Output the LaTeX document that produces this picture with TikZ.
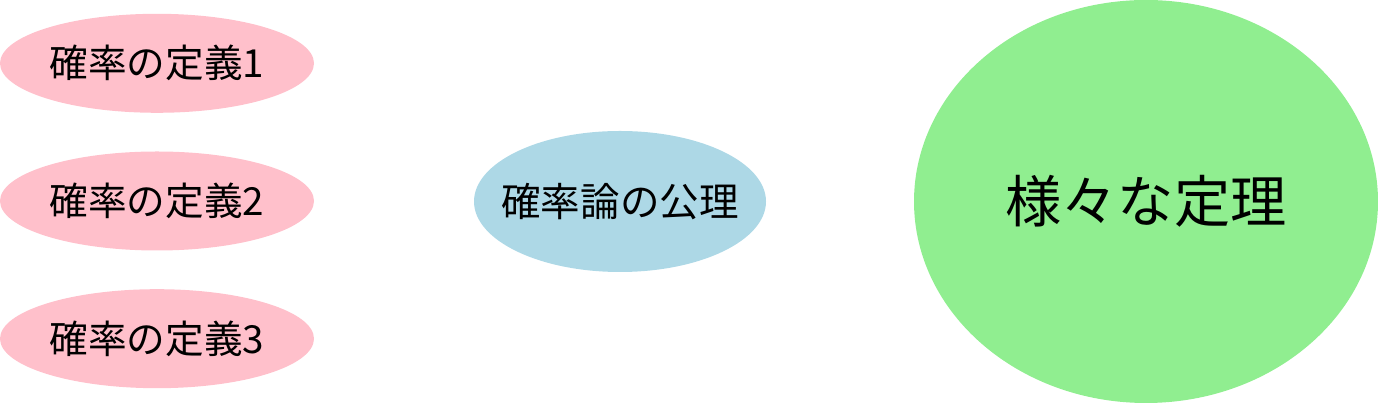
\documentclass[tikz,border=0pt]{standalone}
\usepackage{fontspec}
\setmainfont{Noto Sans CJK JP}
\usetikzlibrary{
  positioning,
  shapes.geometric,
}

\begin{document}
\begin{tikzpicture}[defn/.style={ellipse, fill={rgb,255:red,255;green,192;blue,203},
                                   minimum width=6.28cm, minimum height=1.98cm,
                                   inner sep=-0.2cm,
                                   font=\fontsize{22pt}{26pt}\selectfont},
                    axiom/.style={ellipse, fill={rgb,255:red,173;green,216;blue,230},
                                  minimum width=5.84cm, minimum height=2.82cm,
                                  inner sep=-0.4cm, font=\fontsize{22.5pt}{27pt}\selectfont},
                    thm/.style={ellipse, fill={rgb,255:red,144;green,238;blue,144},
                                minimum width=9.28cm, minimum height=8.06cm,
                                inner sep=0pt, font=\fontsize{32pt}{38pt}\selectfont}]
      \useasboundingbox (0,0) rectangle (27.56,8.06);
      \node [defn] (def2) at (3.14,4.04) {確率の定義2};
      \node [defn, above=0.76cm of def2] (def1) {確率の定義1};
      \node [defn, below=0.76cm of def2] (def3) {確率の定義3};
      \node [axiom] (axioms) at (12.4,4.03) {確率論の公理};
      \node [thm] (theorems) at (22.92,4.03) {様々な定理};
    \end{tikzpicture}
\end{document}
